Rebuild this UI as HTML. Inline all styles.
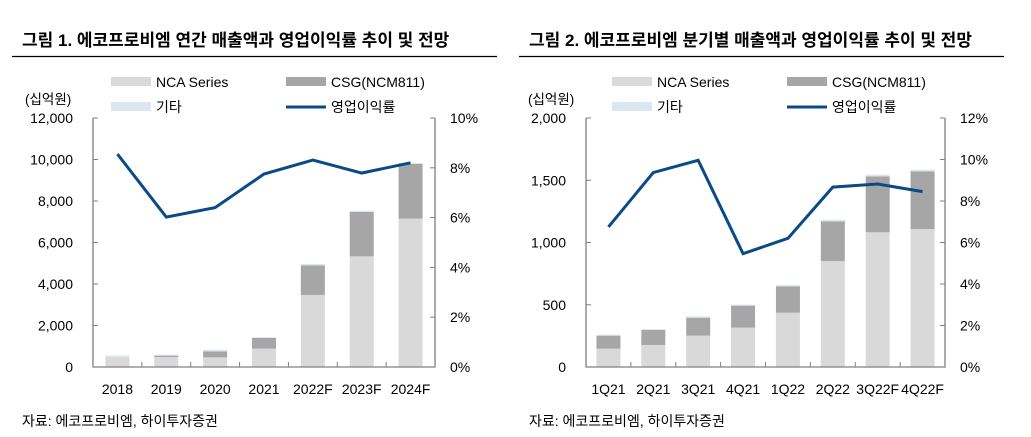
<!DOCTYPE html>
<html><head><meta charset="utf-8">
<style>
body{margin:0;width:1031px;height:437px;background:#fff;font-family:"Liberation Sans","Noto Sans CJK KR",sans-serif;overflow:hidden}
svg{position:absolute;left:0;top:0}
text{font-family:"Liberation Sans","Noto Sans CJK KR",sans-serif;fill:#000}
</style></head><body>
<svg id="s" width="1031" height="437"></svg>
<script>
const cats1=["2018","2019","2020","2021","2022F","2023F","2024F"];
const nca1=[480,482,466,884,3470,5333,7150];
const csg1=[0,64,289,516,1430,2137,2633];
const etc1=[80,49,80,45,64,60,47];
const margin1=[8.55,6.02,6.4,7.75,8.31,7.79,8.2];
const leftTicks1=[0,2000,4000,6000,8000,10000,12000];
const rightTicks1=[0,2,4,6,8,10];

const cats2=["1Q21","2Q21","3Q21","4Q21","1Q22","2Q22","3Q22F","4Q22F"];
const nca2=[147,177,252,316,436,851,1082,1108];
const csg2=[105,120,144,177,212,319,449,464];
const etc2=[8,8,11,8,11,13,14,13];
const margin2=[6.75,9.37,9.96,5.46,6.2,8.67,8.82,8.45];
const leftTicks2=[0,500,1000,1500,2000];
const rightTicks2=[0,2,4,6,8,10,12];

const NS="http://www.w3.org/2000/svg";
const svg=document.getElementById('s');
function el(t,a,txt){const e=document.createElementNS(NS,t);for(const k in a)e.setAttribute(k,a[k]);if(txt!==undefined)e.textContent=txt;svg.appendChild(e);return e;}
function fmt(v){return v.toLocaleString('en-US');}

function chart(o){
  const {x0,x1,y0,y1,cats,nca,csg,etc,mar,lt,rt,title,lineX0,lineX1,legX,unitX,id}=o;
  const lmax=lt[lt.length-1], rmax=rt[rt.length-1];
  const ys=v=>y1-(v/lmax)*(y1-y0);
  const yr=v=>y1-(v/rmax)*(y1-y0);
  const bw=(x1-x0)/cats.length;
  const xc=i=>x0+bw*(i+0.5);
  let t=el('text',{x:lineX0+10,y:46,'font-size':17,'font-weight':'bold'},title);
  
  let r=el('line',{x1:lineX0,x2:lineX1,y1:56.5,y2:56.5,stroke:'#000','stroke-width':1.3});
  
  // legend
  const leg=[[legX,82,'#d9d9d9','NCA Series','rect'],[legX+175,82,'#a6a6a6','CSG(NCM811)','rect'],[legX,107,'#dce6f2','기타','rect'],[legX+175,107,'#0a4a85','영업이익률','line']];
  leg.forEach(l=>{
    let s;
    if(l[4]==='rect') s=el('rect',{x:l[0],y:l[1]-5,width:40,height:9,fill:l[2]});
    else s=el('rect',{x:l[0],y:l[1]-1.5,width:40,height:3,fill:l[2]});
    
    let tx=el('text',{x:l[0]+45,y:l[1]+5,'font-size':14},l[3]);
    
  });
  let u=el('text',{x:unitX,y:104,'font-size':13.5},'(십억원)');
  
  // bars
  cats.forEach((c,i)=>{
    const w=24,bx=xc(i)-w/2;
    let a=el('rect',{x:bx,y:ys(nca[i]),width:w,height:y1-ys(nca[i]),fill:'#d9d9d9'});
    
    let b=el('rect',{x:bx,y:ys(nca[i]+csg[i]),width:w,height:ys(nca[i])-ys(nca[i]+csg[i]),fill:'#a6a6a6'});
    
    let d=el('rect',{x:bx,y:ys(nca[i]+csg[i]+etc[i]),width:w,height:ys(nca[i]+csg[i])-ys(nca[i]+csg[i]+etc[i]),fill:'#dce6f2'});
    
    let xl=el('text',{x:xc(i),y:394,'font-size':14,'text-anchor':'middle'},c);
    
  });
  // axes
  let ax=el('path',{d:`M${x0},${y0}V${y1}H${x1}V${y0}`,fill:'none',stroke:'#808080','stroke-width':1.3});
  
  lt.forEach(v=>{
    let tk=el('line',{x1:x0,x2:x0+5,y1:ys(v),y2:ys(v),stroke:'#808080'});
    
    let tl=el('text',{x:x0-20,y:ys(v)+5,'font-size':14,'text-anchor':'end'},fmt(v));
    
  });
  rt.forEach(v=>{
    let tk=el('line',{x1:x1-5,x2:x1,y1:yr(v),y2:yr(v),stroke:'#808080'});
    
    let tl=el('text',{x:x1+15,y:yr(v)+5,'font-size':14},v+'%');
    
  });
  for(let i=1;i<cats.length;i++){
    let tk=el('line',{x1:x0+bw*i,x2:x0+bw*i,y1:y1-5,y2:y1,stroke:'#808080'});
    
  }
  let pts=mar.map((m,i)=>xc(i)+','+yr(m)).join(' ');
  let pl=el('polyline',{points:pts,fill:'none',stroke:'#0a4a85','stroke-width':3,'stroke-linejoin':'miter'});
  
  let src=el('text',{x:lineX0+10,y:426,'font-size':14},'자료: 에코프로비엠, 하이투자증권');
  
}
chart({id:'chart1',x0:93,x1:435,y0:118,y1:367,cats:cats1,nca:nca1,csg:csg1,etc:etc1,mar:margin1,lt:leftTicks1,rt:rightTicks1,
  title:'그림 1. 에코프로비엠 연간 매출액과 영업이익률 추이 및 전망',lineX0:12,lineX1:497,legX:111,unitX:25});
chart({id:'chart2',x0:586,x1:945,y0:118,y1:367,cats:cats2,nca:nca2,csg:csg2,etc:etc2,mar:margin2,lt:leftTicks2,rt:rightTicks2,
  title:'그림 2. 에코프로비엠 분기별 매출액과 영업이익률 추이 및 전망',lineX0:519,lineX1:1004,legX:612,unitX:528});
</script>
</body></html>
